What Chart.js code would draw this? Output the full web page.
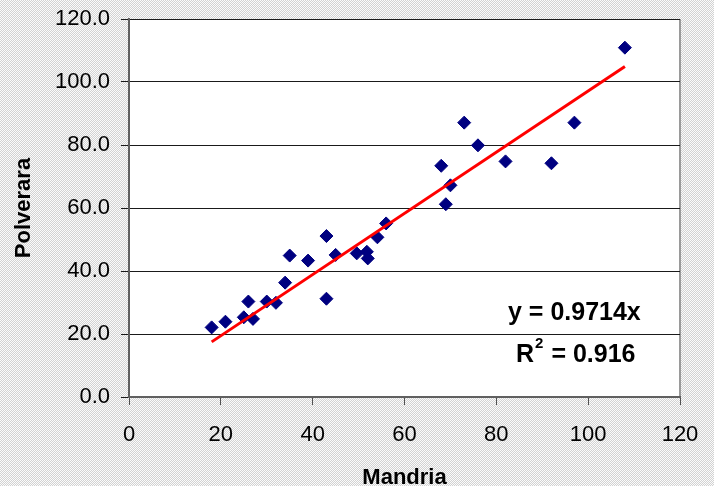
<!DOCTYPE html>
<html>
<head>
<meta charset="utf-8">
<script src="https://cdn.jsdelivr.net/npm/chart.js@4.4.1/dist/chart.umd.min.js"></script>
<style>
  html, body { margin: 0; padding: 0; }
  body {
    width: 714px; height: 486px; overflow: hidden;
    background: repeating-conic-gradient(#d2d2d2 0% 25%, #fbfbfb 0% 50%) 0 0 / 2px 2px;
  }
  #wrap { width: 714px; height: 486px; position: relative; }
</style>
</head>
<body>
<div id="wrap"><canvas id="c" width="714" height="486"></canvas></div>
<script>
// Data
const mandria   = [18, 21, 25, 26, 27, 30, 32, 34, 35, 39, 43, 43, 45, 49.6, 51.8, 52, 54.1, 56, 68, 69, 70, 73, 76, 82, 92, 97, 108];
const polverara = [22.1, 23.9, 25.3, 30.3, 24.8, 30.3, 29.9, 36.3, 44.9, 43.3, 51.1, 31.2, 45.1, 45.6, 46.1, 44, 50.7, 55.1, 73.4, 61.2, 67.2, 87.1, 79.9, 74.8, 74.2, 87.1, 110.9];
const trendX = [18, 108];
const trendY = [17.5, 104.9];
const xTicks = [0, 20, 40, 60, 80, 100, 120];
const yTicks = [0, 20, 40, 60, 80, 100, 120];
const xTitle = 'Mandria';
const yTitle = 'Polverara';
const eqLine1 = 'y = 0.9714x';
const eqR = 'R';
const eqSup = '2';
const eqLine2Rest = ' = 0.916';

const FONT = '"Liberation Sans", Arial, sans-serif';

const plotBg = {
  id: 'plotBg',
  beforeDraw(chart) {
    const {ctx, chartArea: a} = chart;
    ctx.save();
    ctx.fillStyle = '#ffffff';
    ctx.fillRect(a.left, a.top, a.right - a.left, a.bottom - a.top);
    ctx.strokeStyle = '#9a9a9a';
    ctx.lineWidth = 2;
    ctx.beginPath();
    ctx.moveTo(a.right, a.top);
    ctx.lineTo(a.right, a.bottom);
    ctx.stroke();
    ctx.restore();
  }
};

const eqText = {
  id: 'eqText',
  afterDraw(chart) {
    const {ctx, scales} = chart;
    ctx.save();
    ctx.fillStyle = '#000000';
    ctx.textBaseline = 'middle';
    const big = 'bold 25px ' + FONT;
    const small = 'bold 15px ' + FONT;
    ctx.font = big;
    ctx.textAlign = 'center';
    ctx.fillText(eqLine1, scales.x.getPixelForValue(97.0), scales.y.getPixelForValue(26.7));
    const cx = scales.x.getPixelForValue(97.3);
    const cy = scales.y.getPixelForValue(13.3);
    ctx.font = big;
    const wR = ctx.measureText(eqR).width;
    const wRest = ctx.measureText(eqLine2Rest).width;
    ctx.font = small;
    const wS = ctx.measureText(eqSup).width + 2;
    const total = wR + wS + wRest;
    let x0 = cx - total / 2;
    ctx.textAlign = 'left';
    ctx.font = big;
    ctx.fillText(eqR, x0, cy);
    ctx.font = small;
    ctx.fillText(eqSup, x0 + wR + 1, cy - 11);
    ctx.font = big;
    ctx.fillText(eqLine2Rest, x0 + wR + wS, cy);
    ctx.restore();
  }
};

new Chart(document.getElementById('c'), {
  type: 'scatter',
  data: {
    datasets: [
      {
        type: 'line',
        data: trendX.map((x, i) => ({x: x, y: trendY[i]})),
        borderColor: '#ff0000',
        borderWidth: 3,
        pointRadius: 0,
        fill: false,
        tension: 0
      },
      {
        data: mandria.map((x, i) => ({x: x, y: polverara[i]})),
        pointStyle: 'rectRot',
        pointRadius: 6.5,
        backgroundColor: '#000080',
        borderColor: '#000080',
        borderWidth: 1
      }
    ]
  },
  options: {
    responsive: false,
    animation: false,
    events: [],
    layout: { padding: { top: 19, right: 34, left: 0, bottom: 0 } },
    plugins: { legend: { display: false }, tooltip: { enabled: false } },
    scales: {
      x: {
        type: 'linear',
        min: 0, max: 120,
        afterBuildTicks(s) { s.ticks = xTicks.map(v => ({value: v})); },
        afterFit(s) { s.height = 89; s.paddingLeft = 0; s.paddingRight = 0; },
        ticks: {
          color: '#000', padding: 17,
          font: { family: FONT, size: 22 },
          callback: v => String(v)
        },
        grid: { drawOnChartArea: false, drawTicks: true, tickLength: 8, color: '#505050', lineWidth: 1 },
        border: { display: true, color: '#606060', width: 2 },
        title: {
          display: true, text: xTitle, color: '#000',
          font: { family: FONT, size: 22, weight: 'bold' },
          padding: { top: 0, bottom: -5 }
        }
      },
      y: {
        type: 'linear',
        min: 0, max: 120,
        afterBuildTicks(s) { s.ticks = yTicks.map(v => ({value: v})); },
        afterFit(s) { s.width = 129; s.paddingTop = 0; s.paddingBottom = 0; },
        ticks: {
          color: '#000', padding: 11,
          font: { family: FONT, size: 22 },
          callback: v => Number(v).toFixed(1)
        },
        grid: { drawOnChartArea: true, drawTicks: true, tickLength: 8, color: '#1a1a1a', lineWidth: 1 },
        border: { display: true, color: '#606060', width: 2 },
        title: {
          display: true, text: yTitle, color: '#000',
          font: { family: FONT, size: 22, weight: 'bold' },
          padding: { top: 11, bottom: 0 }
        }
      }
    }
  },
  plugins: [plotBg, eqText]
});
</script>
</body>
</html>
